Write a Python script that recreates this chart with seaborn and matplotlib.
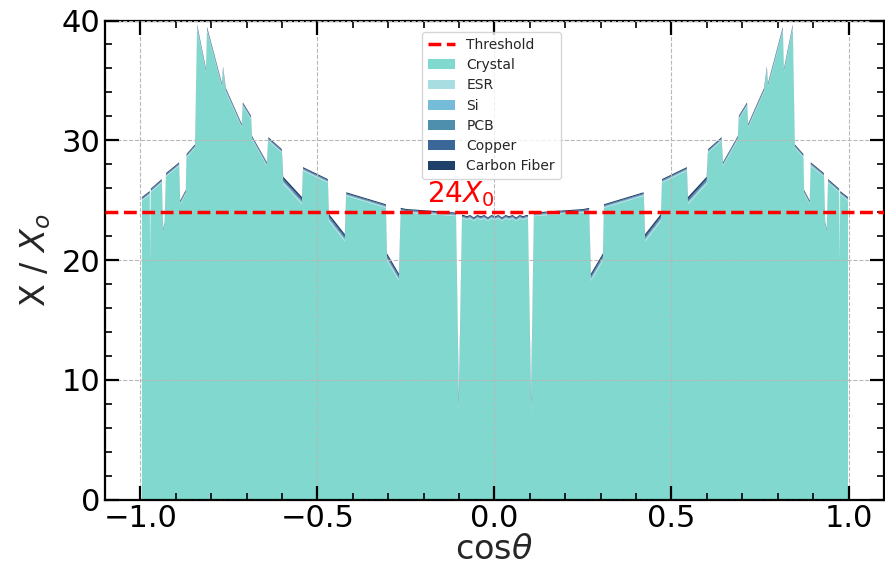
import numpy as np
import pandas as pd
import matplotlib
matplotlib.use("Agg")
import matplotlib.pyplot as plt
import seaborn as sns

# Material budget vs cos(theta); the detector is symmetric, so one half is listed
# (cos theta >= 0) and mirrored to the negative side.
cos_half = [0.000, 0.010, 0.020, 0.030, 0.040, 0.050, 0.060, 0.070, 0.080, 0.088,
            0.093, 0.102, 0.110, 0.150, 0.200, 0.250, 0.266, 0.271, 0.305, 0.308,
            0.420, 0.424, 0.469, 0.472, 0.542, 0.545, 0.598, 0.602, 0.640, 0.644,
            0.686, 0.689, 0.712, 0.715, 0.760, 0.768, 0.771, 0.813, 0.816, 0.841,
            0.847, 0.871, 0.873, 0.889, 0.892, 0.929, 0.933, 0.937, 0.941, 0.972,
            0.974, 0.975, 0.997]

crystal_half = [23.4, 23.5, 23.3, 23.5, 23.4, 23.5, 23.3, 23.5, 23.4, 23.5,
                23.5, 7.3, 23.7, 23.8, 23.9, 24.0, 24.1, 18.3, 20.0, 24.4,
                25.4, 21.6, 23.3, 26.5, 27.5, 24.7, 26.4, 29.0, 30.0, 27.9,
                30.1, 31.8, 32.9, 31.1, 34.1, 35.9, 34.5, 39.2, 35.7, 39.4,
                29.4, 28.6, 25.6, 24.7, 27.9, 27.0, 22.9, 22.3, 26.5, 25.7,
                19.4, 25.5, 25.0]

esr_half = [0.06] * 11 + [0.20] + [0.06] * 5 + [0.10, 0.10] + [0.06] * 2 + \
           [0.10, 0.10] + [0.06] * 2 + [0.10, 0.10] + [0.06] * 26
si_half = [0.04] * 11 + [0.15] + [0.04] * 5 + [0.08, 0.08] + [0.04] * 2 + \
          [0.08, 0.08] + [0.04] * 2 + [0.08, 0.08] + [0.04] * 26
pcb_half = [0.05] * 11 + [0.20] + [0.05] * 5 + [0.10, 0.10] + [0.05] * 2 + \
           [0.10, 0.10] + [0.05] * 2 + [0.10, 0.10] + [0.05] * 26
copper_half = [0.06] * 11 + [0.25] + [0.06] * 5 + [0.12, 0.12] + [0.06] * 2 + \
              [0.12, 0.12] + [0.06] * 2 + [0.12, 0.12] + [0.06] * 26
carbon_half = [0.09] * 11 + [0.40] + [0.09] * 5 + [0.20, 0.20] + [0.09] * 2 + \
              [0.20, 0.20] + [0.09] * 2 + [0.20, 0.20] + [0.09] * 26

materials = ["Crystal", "ESR", "Si", "PCB", "Copper", "Carbon Fiber"]
colors = ["#80d8ce", "#a8dde1", "#74bcd7", "#4f8fae", "#3a6797", "#1f4069"]
threshold = 24


def mirror(vals, sign=1):
    v = np.asarray(vals, dtype=float)
    return np.concatenate([sign * v[:0:-1], v])


cos_theta = mirror(cos_half, sign=-1)
layers = pd.DataFrame({
    "Crystal": mirror(crystal_half),
    "ESR": mirror(esr_half),
    "Si": mirror(si_half),
    "PCB": mirror(pcb_half),
    "Copper": mirror(copper_half),
    "Carbon Fiber": mirror(carbon_half),
}, index=cos_theta)

sns.set_theme(style="white")
plt.rcParams["font.family"] = ["DejaVu Sans"]
plt.rcParams["mathtext.fontset"] = "dejavusans"

fig = plt.figure(figsize=(8.85, 5.75), dpi=100)
ax = fig.add_axes([0.1186, 0.1313, 0.8802, 0.833])

ax.stackplot(layers.index, [layers[m].values for m in materials],
             labels=materials, colors=colors, linewidth=0)
sns.lineplot(x=[-1.1, 1.1], y=[threshold, threshold], ax=ax, color="red",
             linestyle="--", linewidth=2.5, label="Threshold", zorder=4)
ax.text(-0.19, threshold + 0.3, r"$24X_0$", color="red", fontsize=20,
        va="bottom", ha="left")

ax.set_xlim(-1.1, 1.1)
ax.set_ylim(0, 40)
ax.set_xticks([-1.0, -0.5, 0.0, 0.5, 1.0])
ax.set_yticks([0, 10, 20, 30, 40])
ax.xaxis.set_minor_locator(matplotlib.ticker.MultipleLocator(0.1))
ax.yaxis.set_minor_locator(matplotlib.ticker.MultipleLocator(2))
ax.tick_params(which="both", direction="in", top=True, right=True,
               bottom=True, left=True, labelsize=22, colors="black")
ax.tick_params(which="major", length=10, width=1.6)
ax.tick_params(which="minor", length=5, width=1.2)
for s in ax.spines.values():
    s.set_color("black")
    s.set_linewidth(1.6)

ax.set_axisbelow(False)
ax.grid(True, which="major", linestyle="--", color="#b8b8b8", linewidth=0.8)

ax.set_xlabel(r"cos$\theta$", fontsize=24, labelpad=0)
ax.set_ylabel(r"X / $X_o$", fontsize=24, labelpad=6)

handles, labels = ax.get_legend_handles_labels()
order = ["Threshold"] + materials
hmap = dict(zip(labels, handles))
ax.legend([hmap[k] for k in order], order, loc="upper center",
          bbox_to_anchor=(0.496, 0.99), fontsize=10, frameon=True,
          framealpha=0.8, handlelength=2.0, borderpad=0.4, labelspacing=0.45)

fig.savefig("out.png", dpi=100)
